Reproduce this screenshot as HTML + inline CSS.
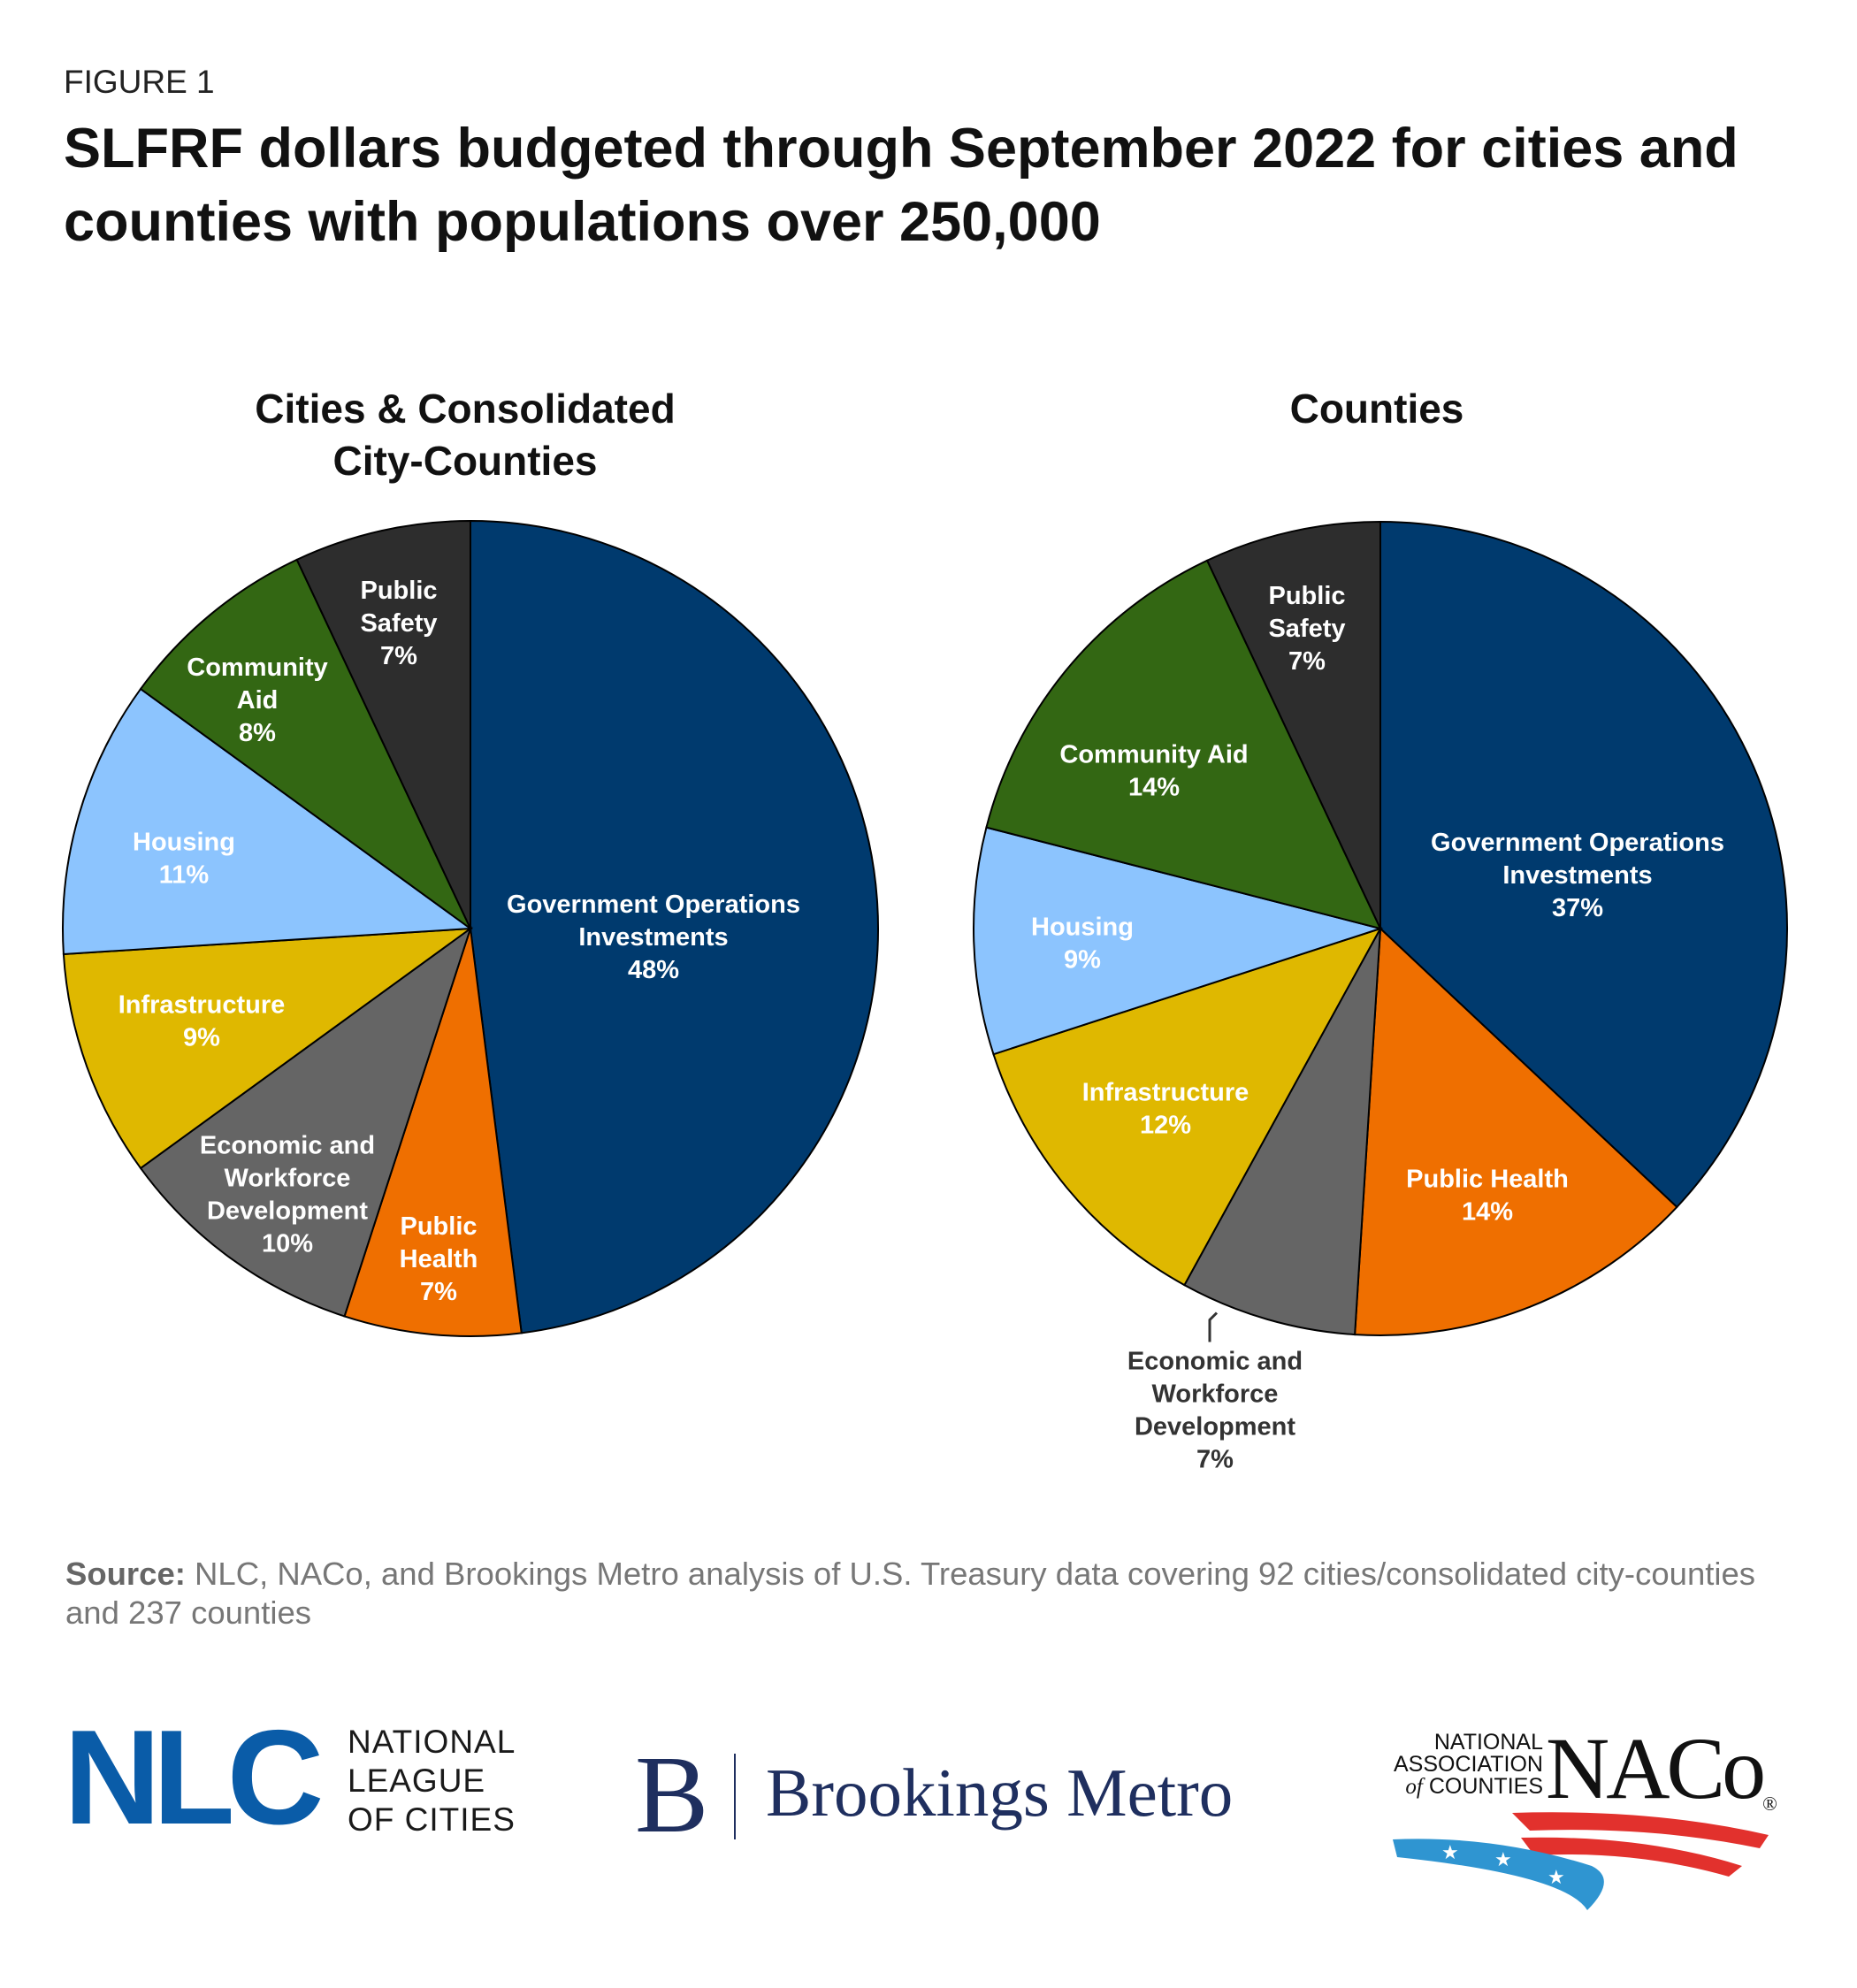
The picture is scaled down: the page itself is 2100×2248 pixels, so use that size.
<!DOCTYPE html>
<html><head><meta charset="utf-8">
<style>
body{margin:0;background:#fff;}
#root{position:relative;width:2100px;height:2248px;overflow:hidden;font-family:"Liberation Sans",sans-serif;}
.abs{position:absolute;}
</style></head>
<body>
<div id="root">
<div class="abs" style="left:72px;top:72px;font-size:37px;color:#222;">FIGURE 1</div>
<div class="abs" style="left:72px;top:127px;font-size:63px;font-weight:bold;color:#111;line-height:83px;width:2050px;">SLFRF dollars budgeted through September 2022 for cities and<br>counties with populations over 250,000</div>
<svg id="chart" class="abs" style="left:0;top:0" width="2100" height="2248">
<text x="526" y="478" text-anchor="middle" font-size="46" font-weight="bold" fill="#111" font-family="Liberation Sans, sans-serif">Cities &amp; Consolidated</text>
<text x="526" y="537" text-anchor="middle" font-size="46" font-weight="bold" fill="#111" font-family="Liberation Sans, sans-serif">City-Counties</text>
<text x="1557" y="478" text-anchor="middle" font-size="46" font-weight="bold" fill="#111" font-family="Liberation Sans, sans-serif">Counties</text>
</svg>
<div class="abs" style="left:74px;top:1758px;font-size:36.5px;color:#777;line-height:44px;width:2050px;"><b style="color:#666">Source:</b> NLC, NACo, and Brookings Metro analysis of U.S. Treasury data covering 92 cities/consolidated city-counties<br>and 237 counties</div>

<div class="abs" style="left:72px;top:1930px;font-size:152px;font-weight:bold;color:#0a5ca8;letter-spacing:-9px;line-height:160px;">NLC</div>
<div class="abs" style="left:393px;top:1948px;font-size:37px;color:#1a1a1a;line-height:44px;letter-spacing:1px;">NATIONAL<br>LEAGUE<br>OF CITIES</div>
<div class="abs" style="left:718px;top:1968px;font-family:'Liberation Serif',serif;font-size:125px;color:#1f2f5f;line-height:125px;">B</div>
<div class="abs" style="left:830px;top:1983px;width:2px;height:97px;background:#1f2f5f;"></div>
<div class="abs" style="left:866px;top:1982px;font-family:'Liberation Serif',serif;font-size:77px;color:#1f2f5f;line-height:90px;">Brookings Metro</div>
<div class="abs" style="left:1560px;top:1958px;width:185px;text-align:right;font-size:25px;color:#111;line-height:25px;">NATIONAL<br>ASSOCIATION<br><i style="font-family:'Liberation Serif',serif">of</i> COUNTIES</div>
<div class="abs" style="left:1748px;top:1950px;font-family:'Liberation Serif',serif;font-size:100px;color:#111;line-height:100px;letter-spacing:-4px;">NACo<span style="font-size:22px;vertical-align:top;position:relative;top:40px">®</span></div>
<svg class="abs" style="left:1570px;top:2040px" width="440" height="130">
<path d="M140 10 Q300 5 430 35 L420 50 Q300 25 160 30 Z" fill="#e2312d"/>
<path d="M150 38 Q290 35 400 70 L385 82 Q280 52 165 58 Z" fill="#e2312d"/>
<path d="M5 40 Q120 35 230 70 Q260 85 225 120 Q200 80 10 60 Z" fill="#2f95d1"/>
<text x="60" y="62" fill="#fff" font-size="22">★</text><text x="120" y="70" fill="#fff" font-size="22">★</text><text x="180" y="90" fill="#fff" font-size="22">★</text>
</svg>
</div>
<script>
const categories = ["Government Operations Investments","Public Health","Economic and Workforce Development","Infrastructure","Housing","Community Aid","Public Safety"];
const citiesValues = [48,7,10,9,11,8,7];
const countiesValues = [37,14,7,12,9,14,7];
const colors = ["#003a6e","#ef6f00","#656565","#dfb800","#8cc4fe","#336713","#2d2d2d"];
const citiesLabels = [["Government Operations","Investments"],["Public","Health"],["Economic and","Workforce","Development"],["Infrastructure"],["Housing"],["Community","Aid"],["Public","Safety"]];
const countiesLabels = [["Government Operations","Investments"],["Public Health"],["Economic and","Workforce","Development"],["Infrastructure"],["Housing"],["Community Aid"],["Public","Safety"]];
const citiesLabelOffsets = [[207,9],[-36,373],[-207,300],[-304,104],[-324,-80],[-241,-259],[-81,-346]];
const countiesLabelOffsets = [[223,-61],[121,301],[-187,544],[-243,203],[-337,16],[-256,-179],[-83,-340]];
const NS="http://www.w3.org/2000/svg";
const svg=document.getElementById('chart');
function angleScale(cum,total){return cum/total*2*Math.PI;}
function drawPie(cx,cy,r,vals,labels,offs,prefix){
  const total=vals.reduce((a,b)=>a+b,0);
  let cum=0;
  vals.forEach((v,i)=>{
    const a0=angleScale(cum,total),a1=angleScale(cum+v,total);cum+=v;
    const x0=cx+r*Math.sin(a0),y0=cy-r*Math.cos(a0),x1=cx+r*Math.sin(a1),y1=cy-r*Math.cos(a1);
    const p=document.createElementNS(NS,'path');
    p.setAttribute('d',`M${cx},${cy}L${x0},${y0}A${r},${r} 0 ${a1-a0>Math.PI?1:0} 1 ${x1},${y1}Z`);
    p.setAttribute('fill',colors[i]);p.setAttribute('stroke','#000');p.setAttribute('stroke-width','2');
    
    
    svg.appendChild(p);
  });
  vals.forEach((v,i)=>{
    const lines=labels[i].concat([v+'%']);
    const lx=cx+offs[i][0],ly=cy+offs[i][1];
    const outside=Math.hypot(offs[i][0],offs[i][1])>r;
    const t=document.createElementNS(NS,'text');
    t.setAttribute('text-anchor','middle');t.setAttribute('font-size','29');t.setAttribute('font-weight','bold');
    t.setAttribute('font-family','Liberation Sans, sans-serif');t.setAttribute('fill',outside?'#333':'#fff');
    
    
    const lh=37,start=ly-(lines.length-1)*lh/2+10;
    lines.forEach((s,k)=>{const ts=document.createElementNS(NS,'tspan');ts.setAttribute('x',lx);ts.setAttribute('y',start+k*lh);ts.textContent=s;t.appendChild(ts);});
    svg.appendChild(t);
    if(outside){
      const ln=document.createElementNS(NS,'polyline');
      const top=start-lh+6;
      ln.setAttribute('points',`${lx-6},${top} ${lx-6},${top-25} ${lx+2},${top-33}`);
      ln.setAttribute('fill','none');ln.setAttribute('stroke','#333');ln.setAttribute('stroke-width','3');
      
      
      svg.appendChild(ln);
    }
  });
}
drawPie(532,1050,461,citiesValues,citiesLabels,citiesLabelOffsets,'cities');
drawPie(1561,1050,460,countiesValues,countiesLabels,countiesLabelOffsets,'counties');
</script>
</body></html>
